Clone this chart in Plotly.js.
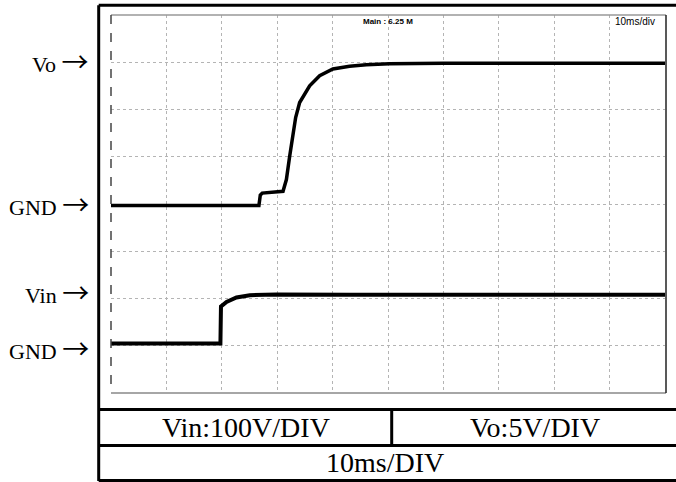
<!DOCTYPE html>
<html>
<head>
<meta charset="utf-8">
<script src="https://cdn.plot.ly/plotly-3.0.1.min.js"></script>
<style>
  html, body { margin: 0; padding: 0; background: #fff; }
  #chart { width: 676px; height: 482px; }
</style>
</head>
<body>
<div id="chart"></div>
<script>
// ---- data ----
// time in ms, Vo in volts (5 V/div), Vin in volts (100 V/div)
const timeVo = [0, 26.7, 26.95, 27.3, 31.05, 31.66, 32.25, 32.85, 33.33, 34.05, 35.86, 37.66, 40.05, 43.06, 46.07, 50.27, 60, 100];
const vo     = [-0.15, -0.15, 0.95, 1.15, 1.34, 2.59, 5.06, 7.55, 9.15, 10.74, 12.51, 13.57, 14.29, 14.57, 14.74, 14.85, 14.9, 14.9];

const timeVin = [0, 19.75, 19.85, 20.85, 22.65, 25.05, 29.86, 43.1, 100];
const vin     = [5, 5, 83, 92.8, 102.1, 107, 108.5, 108, 108];

const leftLabels = ["Vo", "GND", "Vin", "GND"];
const arrow = "\u2192";
const tableTexts = ["Vin:100V/DIV", "Vo:5V/DIV", "10ms/DIV"];
const screenTexts = ["Main : 6.25 M", "10ms/div"];

// ---- layout geometry helpers (pixel -> paper) ----
const W = 676, H = 482;
const M = {l: 111, r: 11, t: 15, b: 89};
const PW = W - M.l - M.r, PH = H - M.t - M.b;
const px = x => (x - M.l) / PW;
const py = y => (H - M.b - y) / PH;

const traces = [
  {x: timeVo, y: vo, mode: 'lines', yaxis: 'y',
   line: {color: '#000', width: 3.5}, hoverinfo: 'skip', showlegend: false},
  {x: timeVin, y: vin, mode: 'lines', yaxis: 'y2',
   line: {color: '#000', width: 4}, hoverinfo: 'skip', showlegend: false}
];

function pline(x0, y0, x1, y1, color, width, dash) {
  return {type: 'line', xref: 'paper', yref: 'paper',
          x0: px(x0), y0: py(y0), x1: px(x1), y1: py(y1),
          line: {color: color, width: width, dash: dash || 'solid'}, layer: 'above'};
}

const shapes = [
  // scope screen frame
  pline(111, 15, 666, 15, '#999', 1.5),
  pline(111, 393, 666, 393, '#888', 1.5),
  pline(111, 15, 111, 393, '#444', 1.5, 'dash'),
  pline(666, 15, 666, 393, '#222', 1.5),
  // outer box + table
  pline(98.7, 5.3, 690, 5.3, '#000', 3),
  pline(98.7, 5.3, 98.7, 481, '#000', 3),
  pline(98.7, 409.5, 690, 409.5, '#000', 3),
  pline(98.7, 445.5, 690, 445.5, '#000', 3),
  pline(98.7, 480.5, 690, 480.5, '#000', 3),
  pline(391.7, 409.5, 391.7, 445.5, '#000', 3)
];

const serif = 'Liberation Serif, Times New Roman, serif';
function ann(text, x, y, xanchor, size, family) {
  return {text: text, xref: 'paper', yref: 'paper', x: px(x), y: py(y),
          xanchor: xanchor, yanchor: 'middle', showarrow: false,
          font: {family: family, size: size, color: '#000'}};
}
function label(t) {
  return t + '&nbsp;<span style="font-family:Noto Sans CJK JP;font-size:27px">' + arrow + '</span>';
}

const annotations = [
  ann(label(leftLabels[0]), 91, 60, 'right', 22, serif),
  ann(label(leftLabels[1]), 91, 203, 'right', 22, serif),
  ann(label(leftLabels[2]), 91, 291, 'right', 22, serif),
  ann(label(leftLabels[3]), 91, 347, 'right', 22, serif),
  ann(tableTexts[0], 246, 427, 'center', 28, serif),
  ann(tableTexts[1], 535, 427, 'center', 28, serif),
  ann(tableTexts[2], 385, 462, 'center', 28, serif),
  ann('<b>' + screenTexts[0] + '</b>', 388, 21, 'center', 8, 'Liberation Sans, Arial, sans-serif'),
  ann(screenTexts[1], 657, 21, 'right', 10, 'Liberation Sans Narrow, Liberation Sans, Arial, sans-serif')
];

const layout = {
  width: W, height: H,
  margin: M,
  paper_bgcolor: '#fff', plot_bgcolor: '#fff',
  showlegend: false,
  xaxis: {range: [0, 100], dtick: 10, tick0: 0, showgrid: true, gridcolor: '#b4b4b4',
          griddash: 'dot', gridwidth: 1, zeroline: false, showticklabels: false,
          ticks: '', showline: false, fixedrange: true},
  yaxis: {range: [-20, 20], dtick: 5, tick0: 0, showgrid: true, gridcolor: '#b4b4b4',
          griddash: 'dot', gridwidth: 1, zeroline: false, showticklabels: false,
          ticks: '', showline: false, fixedrange: true},
  yaxis2: {range: [-100, 700], overlaying: 'y', showgrid: false, zeroline: false,
           showticklabels: false, ticks: '', showline: false, fixedrange: true},
  shapes: shapes,
  annotations: annotations
};

Plotly.newPlot('chart', traces, layout, {staticPlot: true, displayModeBar: false});
</script>
</body>
</html>
